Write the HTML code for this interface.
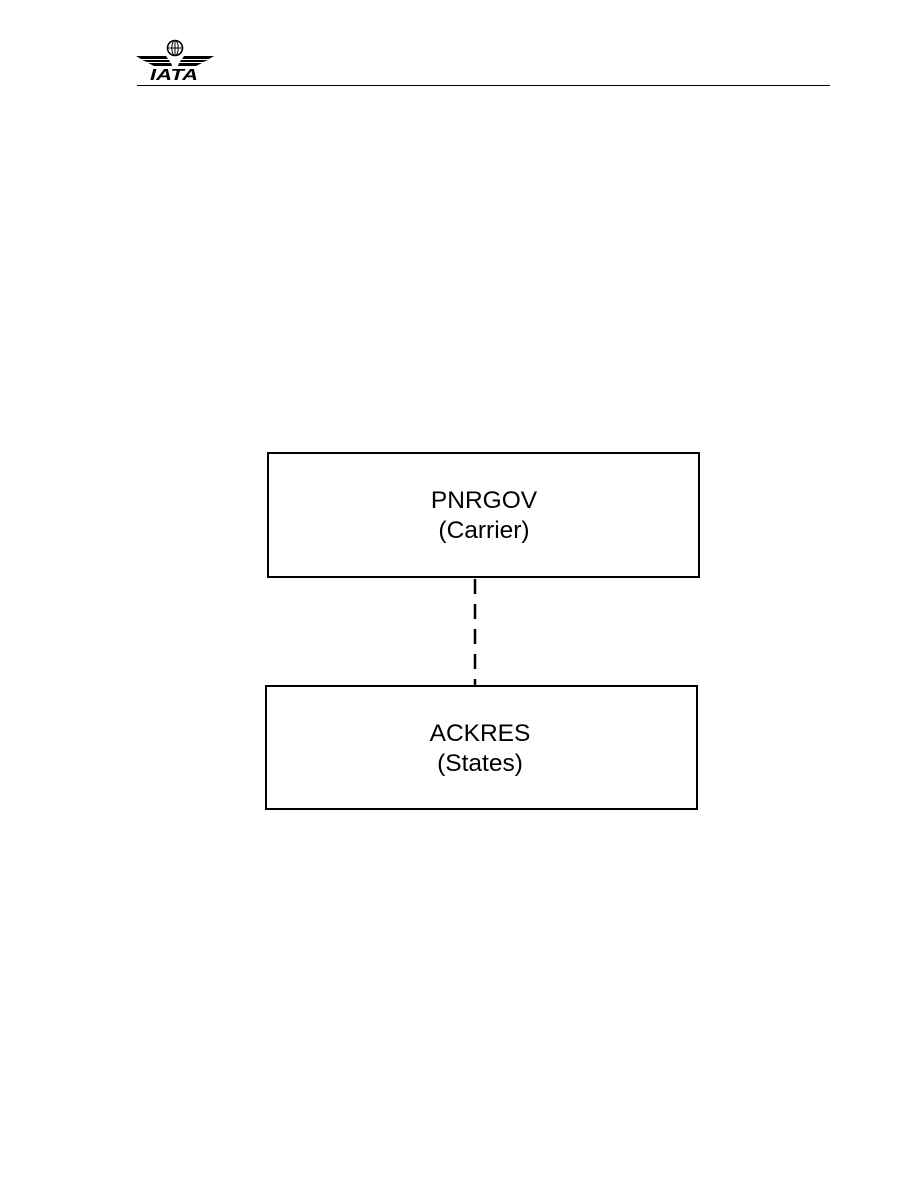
<!DOCTYPE html>
<html><head><style>
body{margin:0;background:#fff;}
</style></head><body>
<svg width="918" height="1188" xmlns="http://www.w3.org/2000/svg" style="display:block">
<rect width="918" height="1188" fill="#fff"/>
<!-- logo -->
<circle cx="175" cy="48" r="7.5" fill="none" stroke="#000" stroke-width="1.6"/>
<ellipse cx="175" cy="48" rx="3.2" ry="7.5" fill="none" stroke="#000" stroke-width="1"/>
<line x1="167.5" y1="48" x2="182.5" y2="48" stroke="#000" stroke-width="1"/>
<line x1="175" y1="40.5" x2="175" y2="55.5" stroke="#000" stroke-width="1"/>
<path d="M136,56 L166,56 L168,59 L141,59 Z M142,60 L169,60 L170,62 L147,62 Z M148,63 L171,63 L172,66 L154,66 Z" fill="#000"/>
<path d="M214,56 L184,56 L182,59 L209,59 Z M208,60 L181,60 L180,62 L203,62 Z M202,63 L179,63 L178,66 L196,66 Z" fill="#000"/>
<text x="150" y="80" font-family="Liberation Sans, sans-serif" font-size="15.5" font-weight="bold" font-style="italic" textLength="48" lengthAdjust="spacingAndGlyphs">IATA</text>
<line x1="137" y1="85.5" x2="830" y2="85.5" stroke="#000" stroke-width="1"/>
<!-- boxes -->
<rect x="268" y="453" width="431" height="124" fill="none" stroke="#000" stroke-width="2"/>
<rect x="266" y="686" width="431" height="123" fill="none" stroke="#000" stroke-width="2"/>
<line x1="475" y1="579" x2="475" y2="686" stroke="#000" stroke-width="2.5" stroke-dasharray="15,10"/>
<g font-family="Liberation Sans, sans-serif" font-size="24.5" text-anchor="middle">
<text x="484" y="508">PNRGOV</text>
<text x="484" y="538">(Carrier)</text>
<text x="480" y="741">ACKRES</text>
<text x="480" y="771">(States)</text>
</g>
</svg>
</body></html>
